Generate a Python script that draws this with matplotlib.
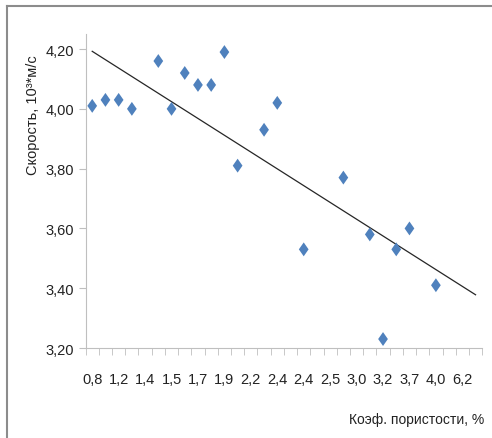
import numpy as np
import matplotlib
matplotlib.use("Agg")
import matplotlib.pyplot as plt
from matplotlib.lines import Line2D

# category index of each measured point (gaps are empty categories)
point_idx = [0, 1, 2, 3, 5, 6, 7, 8, 9, 10, 11, 13, 14, 16, 19, 21, 22, 23, 24, 26]
speed = [4.01, 4.03, 4.03, 4.00, 4.16, 4.00, 4.12, 4.08, 4.08, 4.19,
         3.81, 3.93, 4.02, 3.53, 3.77, 3.58, 3.23, 3.53, 3.60, 3.41]

n_cat = 30
label_idx = list(range(0, 30, 2))
x_labels = ['0,8', '1,2', '1,4', '1,5', '1,7', '1,9', '2,2', '2,4', '2,4',
            '2,5', '3,0', '3,2', '3,7', '4,0', '6,2']
y_ticks = [3.2, 3.4, 3.6, 3.8, 4.0, 4.2]

plt.rcParams['font.family'] = ['Liberation Sans Narrow', 'Liberation Sans', 'DejaVu Sans']

fig = plt.figure(figsize=(4.92, 4.39), dpi=100, facecolor='white')
ax = fig.add_axes([0.174, 0.205, 0.806, 0.715])

# outer chart frame: top and left edges
fx, fy = 7 / 492, 1 - 7 / 439
fig.add_artist(Line2D([fx, fx], [0.0, fy], transform=fig.transFigure,
                      color='#8C8C8C', linewidth=1.5))
fig.add_artist(Line2D([fx, 1.0], [fy, fy], transform=fig.transFigure,
                      color='#8C8C8C', linewidth=1.5))

# tall narrow diamond, like the Excel marker
diamond = [(0, 1), (0.7, 0), (0, -1), (-0.7, 0), (0, 1)]
ax.scatter(point_idx, speed, marker=diamond, s=100, color='#4F81BD',
           edgecolors='none', zorder=3)

# linear trend over category number
k, b = np.polyfit(point_idx, speed, 1)
xt = np.array([0, n_cat - 1])
ax.plot(xt, k * xt + b, color='#262626', linewidth=0.9, zorder=2)

ax.set_xlim(-0.5, n_cat - 0.5)
ax.set_ylim(3.2, 4.25)

ax.set_xticks(label_idx)
ax.set_xticklabels(x_labels)
ax.set_xticks(np.arange(-0.5, n_cat, 1), minor=True)
ax.tick_params(axis='x', which='major', length=0, pad=17, labelsize=10.5,
               labelcolor='#222222')
ax.tick_params(axis='x', which='minor', length=5, color='#BFBFBF')

ax.set_yticks(y_ticks)
ax.set_yticklabels([f'{v:.2f}'.replace('.', ',') for v in y_ticks])
ax.tick_params(axis='y', length=5, color='#BFBFBF', labelsize=10.5,
               labelcolor='#222222')

for s in ['top', 'right']:
    ax.spines[s].set_visible(False)
for s in ['left', 'bottom']:
    ax.spines[s].set_color('#BFBFBF')

fig.text(33 / 492, 1 - 115 / 439, 'Скорость, 10³*м/с', rotation=90,
         ha='center', va='center', fontsize=10.5, color='#222222')
fig.text(484 / 492, 1 - 420 / 439, 'Коэф. пористости, %', ha='right',
         va='center', fontsize=10, color='#222222')

fig.savefig('out.png', dpi=100, facecolor='white')
